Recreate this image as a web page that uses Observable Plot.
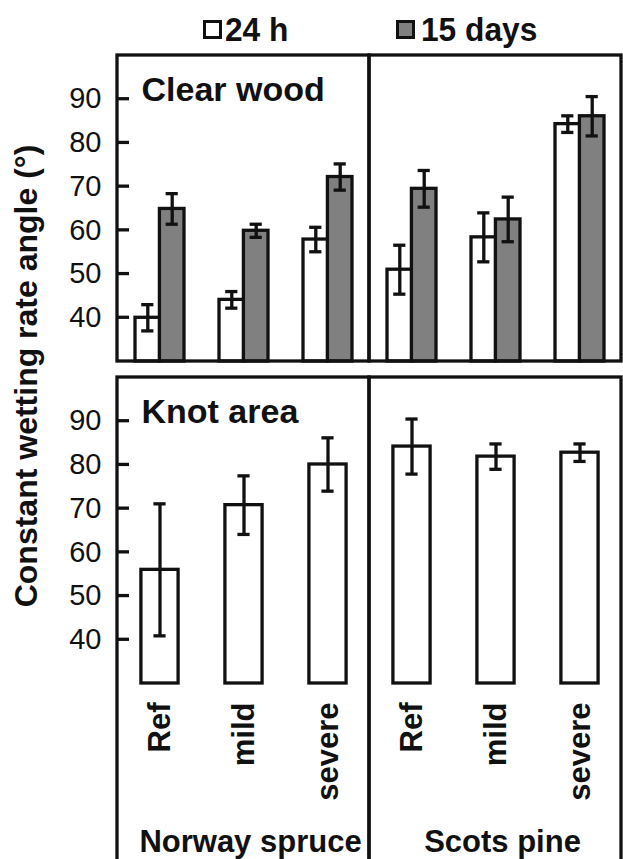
<!DOCTYPE html>
<html><head><meta charset="utf-8">
<script src="https://cdn.jsdelivr.net/npm/d3@7"></script>
<script src="https://cdn.jsdelivr.net/npm/@observablehq/plot@0.6"></script>
<style>
body{margin:0;background:#fff;font-family:"Liberation Sans",Arial,sans-serif;color:#111;}
#wrap{position:relative;width:623px;height:859px;overflow:hidden;background:#fff;}
#legend{position:relative;height:45px;}
.sw{position:absolute;top:20px;width:13px;height:13px;border:3px solid #111;}
.lt{position:absolute;top:13px;font-size:33px;font-weight:bold;line-height:33px;white-space:nowrap;transform:scaleX(0.96);transform-origin:left center;}
#ylab{position:absolute;left:0;top:0;}
</style></head>
<body>
<div id="wrap">
  <div id="legend"></div>
  <div id="chart"></div>
  <svg id="ylab" width="60" height="859"></svg>
</div>
<script>
// ---- data ----
const yDomain = [30, 100];
const yTicks = [40, 50, 60, 70, 80, 90];
const panels = ["Clear wood", "Knot area"];
const species = ["Norway spruce", "Scots pine"];
const treatments = ["Ref", "mild", "severe"];
const series = ["24 h", "15 days"];
const seriesFill = ["white", "#808080"];
const yTitle = "Constant wetting rate angle (°)";

const spruceClear24h    = [40.0, 44.1, 57.9];
const spruceClear24hErr = [3.0, 1.9, 2.8];
const spruceClear15d    = [64.9, 59.9, 72.2];
const spruceClear15dErr = [3.5, 1.5, 3.0];
const pineClear24h      = [51.0, 58.4, 84.3];
const pineClear24hErr   = [5.6, 5.6, 1.9];
const pineClear15d      = [69.5, 62.5, 86.1];
const pineClear15dErr   = [4.2, 5.1, 4.5];
const spruceKnot24h     = [56.0, 70.8, 80.1];
const spruceKnot24hErr  = [15.1, 6.7, 6.1];
const pineKnot24h       = [84.2, 81.9, 82.8];
const pineKnot24hErr    = [6.3, 2.9, 2.0];

function rows(panel, sp, ser, means, errs) {
  return treatments.map((t, i) => ({panel, species: sp, treatment: t, series: ser, mean: means[i], err: errs[i]}));
}
const clear24 = [...rows(panels[0], species[0], series[0], spruceClear24h, spruceClear24hErr),
                 ...rows(panels[0], species[1], series[0], pineClear24h, pineClear24hErr)];
const clear15 = [...rows(panels[0], species[0], series[1], spruceClear15d, spruceClear15dErr),
                 ...rows(panels[0], species[1], series[1], pineClear15d, pineClear15dErr)];
const knot24  = [...rows(panels[1], species[0], series[0], spruceKnot24h, spruceKnot24hErr),
                 ...rows(panels[1], species[1], series[0], pineKnot24h, pineKnot24hErr)];

const frames = panels.flatMap(p => species.map(s => ({panel: p, species: s})));
const panelLabels = panels.map(p => ({panel: p, species: species[0]}));

// ---- layout constants ----
const W = 623, H = 814, ML = 116, MR = 2;
const PAD_IN = 0.42, PAD_OUT = 0.21;
const FACET_W = (W - ML - MR) / species.length;
const STEP = FACET_W / (treatments.length - PAD_IN + 2 * PAD_OUT);
const HALF = STEP * (1 - PAD_IN) / 2;   // half of band width
const TICK_LEN = 12;
const CAP = 6;       // half cap width
const SW = 3.3;      // line width
const INK = "#111";
const base = () => yDomain[0];
const lo = d => d.mean - d.err;
const hi = d => d.mean + d.err;
const F = {fx: "species", fy: "panel", x: "treatment"};
const S = {stroke: INK, strokeWidth: SW};

const chart = Plot.plot({
  width: W, height: H,
  marginTop: 10, marginBottom: 175, marginLeft: ML, marginRight: MR,
  style: {fontFamily: "Liberation Sans, Arial, sans-serif", color: INK, background: "white", overflow: "visible"},
  x: {domain: treatments, paddingInner: PAD_IN, paddingOuter: PAD_OUT},
  y: {domain: yDomain},
  fx: {domain: species, padding: 0},
  fy: {domain: panels, paddingInner: 0.0496, paddingOuter: 0, axis: null},
  marks: [
    // bars
    Plot.barY(clear24, {...F, y1: base, y2: "mean", fill: seriesFill[0], ...S, insetRight: HALF}),
    Plot.barY(clear15, {...F, y1: base, y2: "mean", fill: seriesFill[1], ...S, insetLeft: HALF}),
    Plot.barY(knot24,  {...F, y1: base, y2: "mean", fill: seriesFill[0], ...S, insetLeft: HALF - 18.5, insetRight: HALF - 18.5}),
    // error bars
    Plot.ruleX(clear24, {...F, y1: lo, y2: hi, dx: -HALF / 2, ...S}),
    Plot.tickY(clear24, {...F, y: lo, insetLeft: HALF / 2 - CAP, insetRight: 1.5 * HALF - CAP, ...S}),
    Plot.tickY(clear24, {...F, y: hi, insetLeft: HALF / 2 - CAP, insetRight: 1.5 * HALF - CAP, ...S}),
    Plot.ruleX(clear15, {...F, y1: lo, y2: hi, dx: HALF / 2, ...S}),
    Plot.tickY(clear15, {...F, y: lo, insetLeft: 1.5 * HALF - CAP, insetRight: HALF / 2 - CAP, ...S}),
    Plot.tickY(clear15, {...F, y: hi, insetLeft: 1.5 * HALF - CAP, insetRight: HALF / 2 - CAP, ...S}),
    Plot.ruleX(knot24, {...F, y1: lo, y2: hi, ...S}),
    Plot.tickY(knot24, {...F, y: lo, insetLeft: HALF - CAP, insetRight: HALF - CAP, ...S}),
    Plot.tickY(knot24, {...F, y: hi, insetLeft: HALF - CAP, insetRight: HALF - CAP, ...S}),
    // panel frames
    Plot.rect(frames.filter(f => f.panel === panels[0]), {fx: "species", fy: "panel", fill: "none", ...S}),
    Plot.rect(frames.filter(f => f.panel === panels[1]), {fx: "species", fy: "panel", fill: "none", ...S, insetBottom: -190}),
    // panel titles
    Plot.text(panelLabels, {fx: "species", fy: "panel", text: "panel", frameAnchor: "top-left", textAnchor: "start", lineAnchor: "top", dx: 24, dy: 21, fontSize: 34, fontWeight: "bold", fill: INK}),
    // axes
    Plot.axisY({ticks: yTicks, tickSize: 0, tickPadding: 16, fontSize: 29, label: null, fill: INK}),
    Plot.axisX({ticks: treatments, tickSize: 0, tickPadding: 19, tickRotate: -90, fontSize: 31, fontWeight: "bold", label: null, fill: INK}),
    Plot.axisFx({anchor: "bottom", tickSize: 0, tickPadding: 146, fontSize: 31, fontWeight: "bold", label: null, dx: 7, fill: INK})
  ]
});
document.getElementById("chart").appendChild(chart);

// inward y ticks on the left panels, positioned with the plot's own y / fx / fy scales
(function addInwardTicks() {
  const ys = chart.scale("y"), fxs = chart.scale("fx"), fys = chart.scale("fy");
  const x0 = fxs.apply(species[0]);
  const facetRelative = Math.max(...ys.range) < H / 2;
  const g = d3.select(chart).append("g").attr("stroke", INK).attr("stroke-width", SW);
  panels.forEach(p => {
    const off = facetRelative ? fys.apply(p) - fys.apply(panels[0]) : 0;
    yTicks.forEach(v => {
      const y = off + ys.apply(v);
      g.append("line").attr("x1", x0).attr("x2", x0 + TICK_LEN).attr("y1", y).attr("y2", y);
    });
  });
})();

// legend
const legend = document.getElementById("legend");
const legendPos = [[203, 225], [396, 421]];
series.forEach((s, i) => {
  const sw = document.createElement("span");
  sw.className = "sw";
  sw.style.left = legendPos[i][0] + "px";
  sw.style.background = seriesFill[i];
  legend.appendChild(sw);
  const t = document.createElement("span");
  t.className = "lt";
  t.style.left = legendPos[i][1] + "px";
  t.textContent = s;
  legend.appendChild(t);
});

// y title
const ns = "http://www.w3.org/2000/svg";
const yl = document.createElementNS(ns, "text");
yl.setAttribute("transform", "translate(37,376) rotate(-90)");
yl.setAttribute("text-anchor", "middle");
yl.setAttribute("font-size", "32");
yl.setAttribute("font-weight", "bold");
yl.setAttribute("font-family", "Liberation Sans, Arial, sans-serif");
yl.setAttribute("fill", INK);
yl.textContent = yTitle;
document.getElementById("ylab").appendChild(yl);
</script>
</body></html>
